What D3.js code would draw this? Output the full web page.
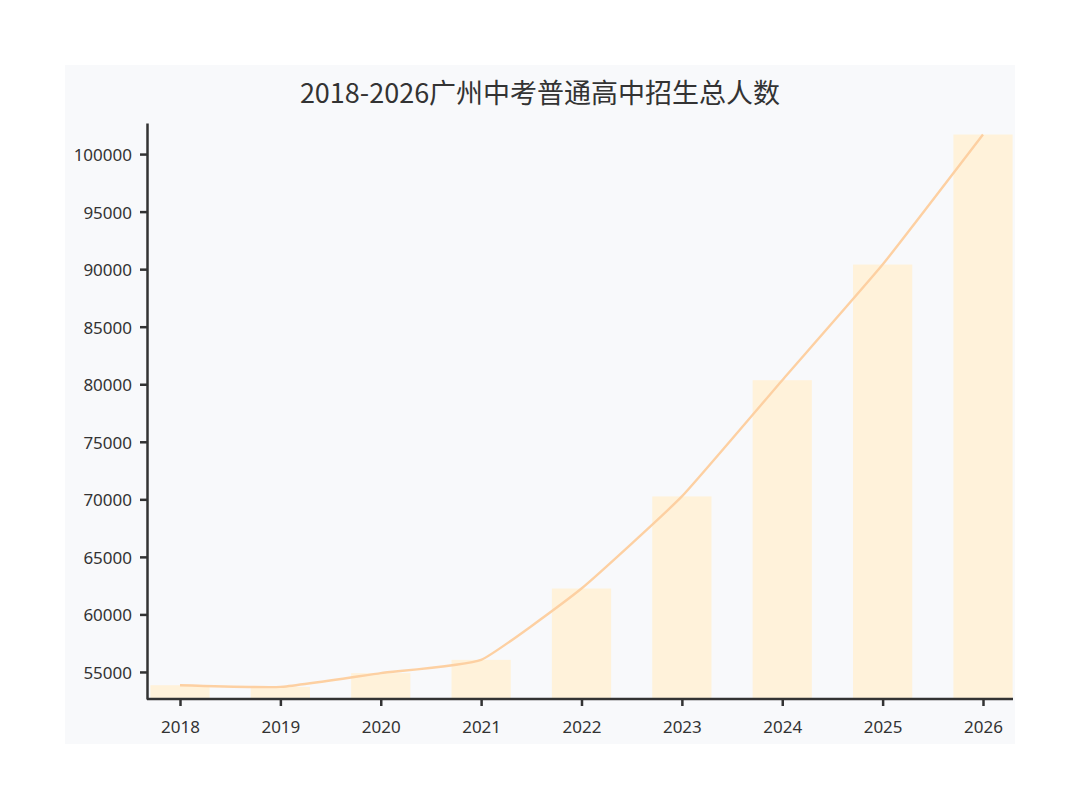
<!DOCTYPE html>
<html>
<head>
<meta charset="utf-8">
<script src="https://cdn.jsdelivr.net/npm/d3@7"></script>
<style>
    body { margin: 0; background: #ffffff; }
    .title { font-family: "Noto Sans CJK SC", "Noto Sans", sans-serif; font-size: 27px; fill: #333; }
    .axis text { font-family: "Noto Sans", "Noto Sans CJK SC", sans-serif; font-size: 17px; fill: #333; }
    .axis path, .axis line { stroke: #333; stroke-width: 2.5; }
</style>
</head>
<body>
<script>
// 2018-2026 广州中考普通高中招生总人数
var years = ["2018", "2019", "2020", "2021", "2022", "2023", "2024", "2025", "2026"];
var students = [53850, 53700, 54900, 56050, 62250, 70250, 80350, 90400, 101700];
var yTicks = [55000, 60000, 65000, 70000, 75000, 80000, 85000, 90000, 95000, 100000];

var w = 1080, h = 809;

var svg = d3.select("body").append("svg")
    .attr("width", w)
    .attr("height", h);

// panel background
svg.append("rect")
    .attr("x", 65)
    .attr("y", 65)
    .attr("width", 950)
    .attr("height", 679)
    .attr("fill", "#f8f9fb");

svg.append("text")
    .attr("class", "title")
    .attr("x", 540)
    .attr("y", 103)
    .attr("text-anchor", "middle")
    .text("2018-2026广州中考普通高中招生总人数");

var x = d3.scalePoint()
    .domain(years)
    .range([180, 983]);

var y = d3.scaleLinear()
    .domain([52650, 102700])
    .range([699, 123]);

var barW = x.step() * 0.59;

// bars
svg.selectAll("rect.bar")
    .data(years)
    .enter().append("rect")
    .attr("class", "bar")
    .attr("x", function(d) { return x(d) - barW/2; })
    .attr("y", function(d, i) { return y(students[i]); })
    .attr("width", barW)
    .attr("height", function(d, i) { return 699 - y(students[i]); })
    .attr("fill", "#fff2da");

// lightly smoothed line through the same values
var line = d3.line()
    .x(function(d, i) { return x(years[i]); })
    .y(function(d) { return y(d); })
    .curve(d3.curveCardinal.tension(0.6));

svg.append("path")
    .datum(students)
    .attr("d", line)
    .attr("fill", "none")
    .attr("stroke", "#fdd0a2")
    .attr("stroke-width", 2.4);

// axes
var gx = svg.append("g")
    .attr("class", "axis")
    .attr("transform", "translate(0,699)")
    .call(d3.axisBottom(x).tickSizeOuter(0).tickSizeInner(7).tickPadding(20));
// axis line runs past the first and last category
gx.select("path.domain").attr("d", "M147,0H1013");

svg.append("g")
    .attr("class", "axis")
    .attr("transform", "translate(147,0)")
    .call(d3.axisLeft(y).tickValues(yTicks).tickFormat(d3.format("d")).tickSizeOuter(0).tickSizeInner(7).tickPadding(8));

svg.selectAll(".axis .tick text").attr("dy", null);
svg.selectAll(".axis .tick text").attr("dominant-baseline", "central");
</script>
</body>
</html>
